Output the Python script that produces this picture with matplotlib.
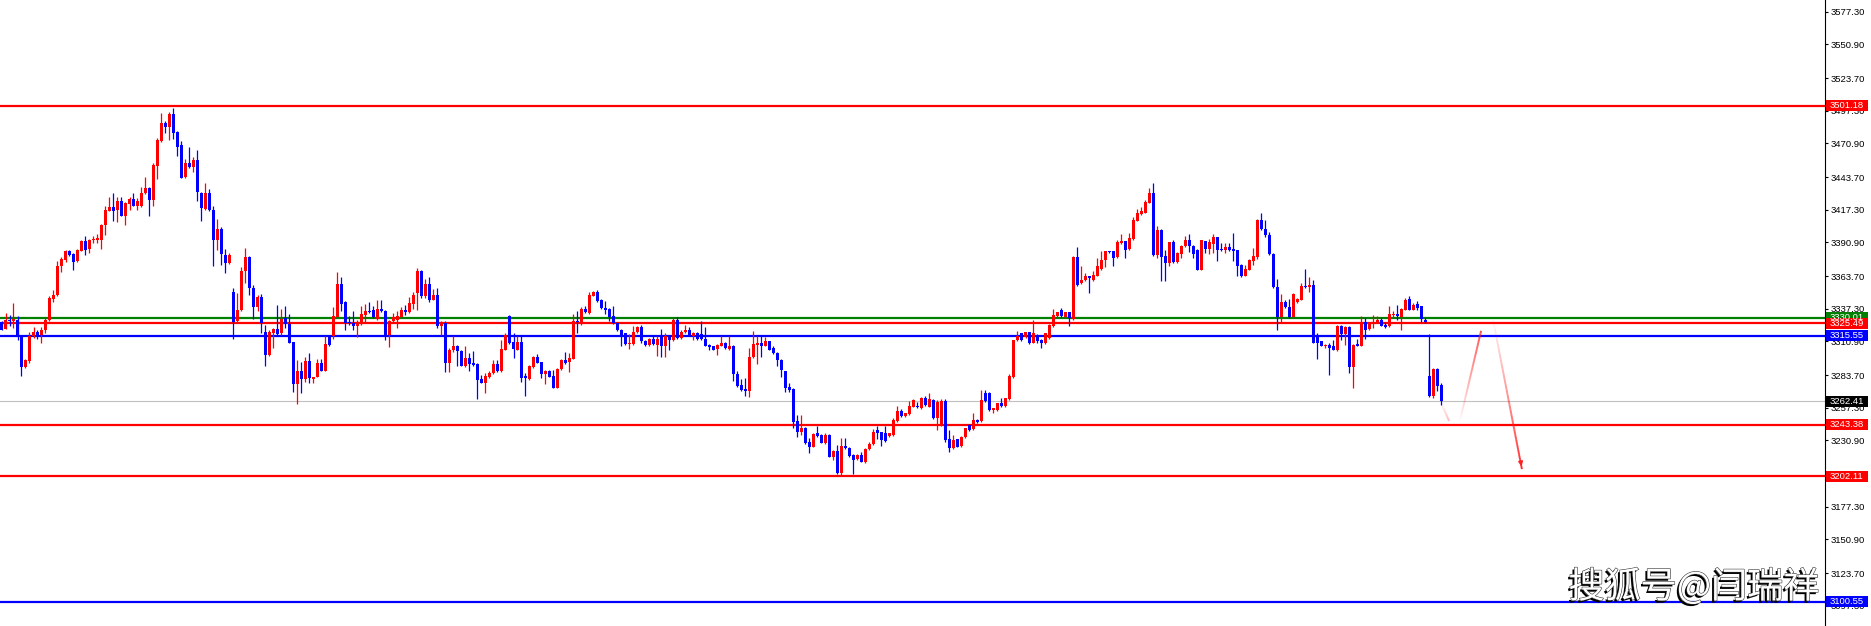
import matplotlib
matplotlib.use('Agg')
import matplotlib.pyplot as plt
import matplotlib.patheffects as pe
import matplotlib.transforms as mtransforms
from matplotlib.patches import Rectangle
from matplotlib.collections import LineCollection
import numpy as np

# K线数据 (开 高 低 收)
opens = [
    3326.2, 3320.8, 3327.9, 3327.3, 3328.4, 3314.9, 3290.1, 3295.2, 3314.9, 3318.7,
    3316.3, 3319.8, 3328.4, 3345.4, 3348.1, 3371.6, 3377.0, 3383.8, 3381.9, 3375.7,
    3384.3, 3392.1, 3385.6, 3392.7, 3393.2, 3393.2, 3404.8, 3416.7, 3419.9, 3417.0,
    3424.0, 3412.6, 3421.6, 3426.4, 3420.7, 3420.2, 3430.5, 3434.5, 3425.1, 3452.6,
    3472.9, 3487.7, 3484.2, 3494.4, 3480.1, 3469.3, 3443.7, 3454.8, 3451.8, 3457.2,
    3431.0, 3418.0, 3430.5, 3417.5, 3392.7, 3401.8, 3381.1, 3374.3, 3350.8, 3327.1,
    3336.0, 3367.6, 3379.2, 3354.3, 3338.4, 3347.0, 3318.4, 3300.0, 3317.6, 3320.8,
    3317.6, 3329.5, 3324.9, 3310.3, 3276.6, 3287.1, 3280.3, 3295.2, 3280.9, 3282.5,
    3293.3, 3287.4, 3315.4, 3314.9, 3330.6, 3357.6, 3342.4, 3326.5, 3325.7, 3323.0,
    3325.2, 3332.4, 3335.7, 3336.0, 3329.0, 3337.0, 3335.7, 3315.7, 3327.1, 3328.4,
    3330.6, 3336.5, 3334.3, 3341.4, 3350.0, 3367.5, 3347.8, 3357.6, 3344.6, 3348.7,
    3323.0, 3325.7, 3293.8, 3303.6, 3307.3, 3303.3, 3291.4, 3297.9, 3293.3, 3292.8,
    3280.6, 3277.6, 3282.5, 3285.2, 3292.8, 3287.4, 3304.1, 3331.1, 3310.6, 3304.1,
    3310.6, 3283.0, 3280.3, 3290.6, 3298.7, 3294.4, 3284.7, 3287.4, 3283.0, 3273.6,
    3288.4, 3296.0, 3294.4, 3297.1, 3327.1, 3325.2, 3337.3, 3333.8, 3347.8, 3350.5,
    3344.6, 3338.1, 3337.0, 3331.1, 3325.7, 3320.3, 3317.6, 3308.7, 3309.0, 3318.4,
    3322.5, 3311.4, 3308.2, 3313.0, 3308.2, 3316.2, 3306.8, 3314.9, 3311.7, 3328.4,
    3313.5, 3318.4, 3320.3, 3315.4, 3318.1, 3316.8, 3313.0, 3308.2, 3306.8, 3304.6,
    3307.3, 3310.0, 3304.9, 3307.6, 3284.7, 3275.8, 3272.5, 3271.2, 3298.2, 3308.2,
    3310.0, 3307.3, 3310.9, 3305.4, 3301.9, 3296.0, 3286.6, 3274.4, 3272.5, 3246.6,
    3237.9, 3241.2, 3229.9, 3225.8, 3236.6, 3235.3, 3229.0, 3235.3, 3217.7, 3222.3,
    3204.2, 3226.6, 3225.0, 3219.1, 3215.8, 3219.1, 3213.7, 3223.9, 3227.7, 3239.3,
    3237.4, 3236.6, 3234.7, 3235.3, 3246.9, 3255.0, 3250.6, 3252.3, 3258.2, 3258.7,
    3256.9, 3265.5, 3258.2, 3263.6, 3248.8, 3243.4, 3263.1, 3231.7, 3224.5, 3231.7,
    3226.3, 3233.4, 3243.4, 3239.8, 3247.4, 3246.9, 3269.5, 3269.5, 3255.5, 3255.5,
    3260.9, 3259.0, 3264.1, 3282.0, 3311.7, 3317.6, 3314.1, 3318.4, 3310.0, 3316.3,
    3312.2, 3309.5, 3313.6, 3323.0, 3331.1, 3336.5, 3330.6, 3334.3, 3328.9, 3379.2,
    3358.1, 3360.3, 3363.5, 3360.8, 3364.0, 3369.4, 3376.5, 3383.8, 3383.8, 3379.2,
    3390.5, 3391.9, 3385.6, 3394.0, 3408.6, 3413.5, 3414.8, 3422.9, 3430.5, 3381.1,
    3401.3, 3379.7, 3374.3, 3391.0, 3374.8, 3381.6, 3387.8, 3392.7, 3388.3, 3385.1,
    3368.9, 3391.9, 3385.9, 3390.0, 3395.1, 3385.9, 3384.6, 3387.0, 3385.6, 3384.6,
    3372.4, 3364.0, 3368.9, 3375.7, 3379.2, 3408.9, 3402.1, 3397.3, 3381.9, 3354.9,
    3330.6, 3343.0, 3338.7, 3330.6, 3342.4, 3344.6, 3355.9, 3354.9, 3356.8, 3316.2,
    3310.9, 3307.6, 3308.4, 3306.8, 3303.6, 3323.5, 3317.1, 3322.5, 3290.6, 3308.7,
    3307.6, 3327.0, 3321.1, 3325.2, 3326.2, 3328.4, 3324.4, 3323.0, 3332.5, 3333.3,
    3330.6, 3336.5, 3345.1, 3336.5, 3341.4, 3339.2, 3328.4, 3283.0, 3266.8, 3288.7,
    3275.7,
]
highs = [
    3327.1, 3333.8, 3332.5, 3341.9, 3331.6, 3315.4, 3296.5, 3318.9, 3322.5, 3319.8,
    3322.2, 3329.5, 3347.3, 3352.7, 3375.6, 3378.9, 3385.1, 3385.1, 3382.4, 3385.6,
    3393.2, 3396.4, 3393.7, 3396.4, 3398.1, 3406.2, 3420.2, 3427.5, 3430.5, 3427.8,
    3427.8, 3423.4, 3427.8, 3430.5, 3426.7, 3435.9, 3444.0, 3435.9, 3455.3, 3475.5,
    3495.3, 3489.0, 3496.3, 3499.9, 3481.0, 3472.9, 3458.5, 3468.3, 3460.2, 3465.3,
    3431.5, 3439.1, 3433.7, 3420.7, 3409.9, 3403.2, 3385.9, 3382.4, 3354.0, 3350.0,
    3370.8, 3386.4, 3380.2, 3356.2, 3348.6, 3349.5, 3324.3, 3320.3, 3321.6, 3340.5,
    3337.0, 3339.2, 3333.0, 3310.8, 3296.0, 3294.4, 3298.4, 3301.4, 3282.5, 3296.5,
    3296.5, 3314.9, 3315.4, 3338.7, 3367.3, 3363.2, 3343.3, 3331.1, 3335.7, 3328.4,
    3339.7, 3341.1, 3342.7, 3339.2, 3344.1, 3344.6, 3336.5, 3328.4, 3333.8, 3335.7,
    3338.7, 3340.5, 3346.8, 3350.5, 3370.2, 3368.9, 3361.3, 3363.0, 3353.2, 3354.0,
    3327.1, 3327.1, 3305.4, 3314.9, 3308.2, 3304.1, 3306.8, 3301.4, 3303.3, 3293.3,
    3283.9, 3285.2, 3287.4, 3296.0, 3296.0, 3312.2, 3318.1, 3331.9, 3317.6, 3314.9,
    3314.9, 3285.0, 3291.9, 3299.2, 3300.6, 3294.6, 3287.9, 3287.9, 3287.9, 3289.5,
    3296.5, 3302.2, 3301.9, 3333.3, 3335.2, 3338.7, 3339.7, 3350.5, 3351.9, 3352.2,
    3345.1, 3343.3, 3337.6, 3339.7, 3326.2, 3320.8, 3318.1, 3316.8, 3323.0, 3323.5,
    3324.4, 3312.2, 3313.5, 3315.4, 3314.9, 3320.8, 3317.6, 3315.4, 3329.8, 3330.3,
    3320.3, 3324.4, 3322.5, 3318.7, 3318.9, 3327.6, 3322.5, 3309.0, 3307.3, 3308.7,
    3314.9, 3310.6, 3314.9, 3308.2, 3287.1, 3280.3, 3281.2, 3305.4, 3319.5, 3314.9,
    3314.9, 3314.4, 3311.4, 3307.3, 3302.5, 3296.5, 3287.1, 3277.1, 3273.0, 3251.4,
    3251.5, 3242.0, 3232.6, 3237.1, 3242.5, 3235.8, 3236.6, 3235.8, 3223.1, 3227.2,
    3232.6, 3232.6, 3225.8, 3219.9, 3219.6, 3221.8, 3224.5, 3229.9, 3239.8, 3242.5,
    3237.9, 3242.5, 3237.1, 3248.8, 3258.7, 3256.3, 3253.3, 3262.8, 3264.1, 3262.3,
    3266.3, 3266.8, 3269.0, 3264.1, 3263.6, 3264.1, 3264.1, 3239.3, 3235.3, 3232.3,
    3234.4, 3241.2, 3244.2, 3252.8, 3247.9, 3271.7, 3271.7, 3270.1, 3257.4, 3261.4,
    3265.0, 3265.5, 3284.4, 3312.2, 3319.0, 3318.1, 3318.9, 3318.9, 3328.4, 3316.8,
    3312.7, 3318.1, 3325.2, 3337.0, 3334.9, 3337.9, 3334.9, 3334.9, 3380.2, 3387.3,
    3372.1, 3366.2, 3364.0, 3368.1, 3378.4, 3383.8, 3384.3, 3384.3, 3384.3, 3392.7,
    3398.1, 3392.4, 3398.6, 3411.3, 3418.0, 3419.7, 3425.1, 3435.1, 3438.6, 3404.5,
    3401.8, 3385.1, 3391.6, 3393.2, 3382.9, 3389.2, 3396.4, 3397.5, 3389.0, 3386.0,
    3393.2, 3392.4, 3393.7, 3398.1, 3395.6, 3390.5, 3390.5, 3390.5, 3398.6, 3385.1,
    3373.8, 3373.0, 3377.5, 3386.5, 3409.9, 3414.8, 3408.9, 3399.4, 3382.4, 3361.3,
    3349.5, 3344.6, 3345.1, 3350.0, 3346.0, 3358.1, 3369.7, 3363.0, 3360.3, 3317.6,
    3311.4, 3309.0, 3309.5, 3312.2, 3324.1, 3324.1, 3323.0, 3323.0, 3308.7, 3312.7,
    3331.6, 3329.8, 3327.0, 3331.9, 3331.1, 3329.8, 3327.0, 3339.2, 3335.2, 3340.6,
    3337.9, 3346.0, 3347.8, 3341.9, 3343.3, 3339.7, 3329.8, 3316.8, 3289.2, 3289.2,
    3277.1,
]
lows = [
    3319.8, 3320.8, 3323.0, 3321.6, 3312.2, 3283.3, 3289.2, 3293.8, 3313.5, 3313.0,
    3310.0, 3317.6, 3327.1, 3342.4, 3347.3, 3366.7, 3374.8, 3380.2, 3368.9, 3374.8,
    3383.8, 3381.1, 3382.4, 3390.5, 3390.5, 3385.9, 3397.2, 3416.2, 3408.6, 3407.2,
    3412.1, 3405.3, 3417.0, 3420.2, 3417.5, 3419.7, 3429.7, 3412.1, 3420.7, 3441.8,
    3472.0, 3479.1, 3473.4, 3474.2, 3460.7, 3442.6, 3443.1, 3451.0, 3447.7, 3424.0,
    3408.0, 3417.5, 3416.2, 3371.6, 3385.1, 3372.7, 3366.2, 3373.8, 3312.7, 3325.7,
    3335.2, 3358.1, 3348.1, 3328.9, 3335.1, 3317.6, 3291.4, 3299.2, 3305.4, 3316.2,
    3316.2, 3321.6, 3309.5, 3270.3, 3260.4, 3269.0, 3278.4, 3277.1, 3277.1, 3282.0,
    3286.6, 3286.6, 3306.8, 3312.7, 3329.7, 3335.1, 3319.8, 3324.4, 3319.8, 3314.4,
    3324.4, 3326.5, 3333.8, 3329.7, 3328.4, 3334.3, 3311.7, 3306.0, 3326.2, 3321.6,
    3329.8, 3332.4, 3333.8, 3337.0, 3336.5, 3345.9, 3345.9, 3342.4, 3344.1, 3321.6,
    3316.2, 3286.5, 3286.5, 3302.7, 3291.4, 3291.1, 3290.6, 3287.4, 3291.1, 3264.4,
    3277.1, 3269.5, 3281.1, 3284.6, 3286.5, 3286.5, 3303.6, 3308.7, 3297.9, 3303.6,
    3278.4, 3266.8, 3279.8, 3289.3, 3293.3, 3281.1, 3276.6, 3282.0, 3273.0, 3273.0,
    3287.9, 3292.8, 3286.5, 3296.5, 3318.1, 3324.4, 3333.8, 3333.0, 3347.3, 3342.7,
    3337.0, 3333.0, 3327.1, 3325.2, 3319.0, 3307.6, 3308.2, 3304.6, 3308.2, 3317.6,
    3310.0, 3307.3, 3307.3, 3308.2, 3299.2, 3298.7, 3298.7, 3304.1, 3310.9, 3312.7,
    3312.7, 3317.6, 3314.9, 3311.7, 3312.2, 3312.2, 3306.8, 3303.6, 3303.6, 3300.1,
    3306.8, 3304.6, 3304.1, 3279.3, 3274.4, 3271.2, 3267.1, 3266.3, 3297.4, 3292.5,
    3298.7, 3306.8, 3303.6, 3300.9, 3291.4, 3282.5, 3270.4, 3270.4, 3240.7, 3233.9,
    3235.3, 3227.9, 3220.4, 3225.3, 3233.9, 3228.5, 3227.9, 3217.2, 3215.0, 3203.7,
    3202.9, 3223.6, 3217.7, 3203.7, 3215.0, 3213.1, 3212.8, 3223.1, 3227.2, 3231.7,
    3226.3, 3229.9, 3233.9, 3234.4, 3246.1, 3250.1, 3250.1, 3251.5, 3257.7, 3256.9,
    3256.3, 3258.7, 3257.7, 3247.9, 3239.3, 3242.5, 3229.8, 3221.8, 3223.6, 3225.3,
    3225.8, 3232.6, 3238.8, 3239.3, 3245.2, 3246.1, 3262.3, 3255.0, 3252.8, 3255.0,
    3258.2, 3258.2, 3263.6, 3281.2, 3310.9, 3310.9, 3313.6, 3309.0, 3309.5, 3310.0,
    3305.5, 3309.0, 3312.7, 3322.5, 3330.6, 3330.6, 3329.8, 3323.0, 3328.4, 3355.9,
    3357.6, 3359.5, 3350.0, 3360.0, 3363.5, 3368.9, 3371.1, 3382.4, 3372.1, 3378.4,
    3390.0, 3378.4, 3385.1, 3393.2, 3408.1, 3412.9, 3414.3, 3422.4, 3380.2, 3378.4,
    3360.0, 3359.5, 3371.6, 3374.3, 3374.3, 3378.4, 3387.3, 3382.9, 3378.4, 3368.4,
    3368.4, 3382.4, 3381.9, 3382.4, 3375.6, 3384.1, 3382.4, 3384.1, 3375.6, 3364.0,
    3363.0, 3363.5, 3368.4, 3373.0, 3377.5, 3401.3, 3395.4, 3381.1, 3354.0, 3319.8,
    3325.7, 3337.9, 3329.8, 3329.8, 3341.9, 3344.1, 3354.0, 3350.5, 3309.5, 3296.5,
    3306.8, 3305.5, 3283.9, 3303.6, 3302.8, 3311.7, 3308.2, 3285.7, 3273.6, 3306.8,
    3306.8, 3312.7, 3320.3, 3321.6, 3325.7, 3323.0, 3321.6, 3322.5, 3329.8, 3328.4,
    3319.8, 3336.0, 3336.0, 3336.0, 3336.5, 3326.2, 3325.7, 3266.3, 3265.5, 3271.2,
    3259.5,
]
closes = [
    3320.3, 3327.9, 3327.6, 3328.9, 3314.1, 3290.6, 3296.0, 3315.4, 3318.7, 3316.0,
    3320.3, 3327.9, 3345.9, 3348.6, 3372.1, 3377.5, 3384.3, 3381.1, 3375.4, 3385.1,
    3392.1, 3385.1, 3393.2, 3393.7, 3394.6, 3405.3, 3417.5, 3419.9, 3416.7, 3424.0,
    3412.6, 3422.4, 3426.4, 3420.7, 3424.8, 3431.0, 3434.5, 3425.1, 3453.1, 3473.7,
    3487.7, 3484.2, 3494.4, 3479.6, 3468.0, 3443.1, 3454.8, 3451.5, 3457.2, 3431.5,
    3418.9, 3430.5, 3417.0, 3392.7, 3401.8, 3381.6, 3374.3, 3381.1, 3327.0, 3336.5,
    3368.1, 3379.2, 3353.8, 3338.4, 3347.0, 3325.7, 3300.0, 3318.4, 3320.8, 3317.1,
    3328.9, 3324.9, 3310.0, 3276.6, 3287.1, 3280.3, 3295.2, 3281.1, 3282.0, 3293.3,
    3287.4, 3308.7, 3308.1, 3331.1, 3357.6, 3341.4, 3325.7, 3325.7, 3323.0, 3325.7,
    3333.3, 3335.7, 3334.6, 3330.6, 3337.0, 3335.2, 3315.7, 3327.6, 3330.6, 3331.6,
    3336.5, 3334.3, 3341.9, 3348.7, 3367.5, 3347.3, 3357.6, 3344.6, 3348.7, 3323.0,
    3325.7, 3293.8, 3304.1, 3307.3, 3303.3, 3291.4, 3297.9, 3292.8, 3291.7, 3279.8,
    3277.6, 3283.0, 3285.7, 3292.8, 3287.4, 3304.9, 3316.2, 3310.0, 3304.4, 3310.6,
    3281.7, 3281.2, 3291.1, 3298.7, 3293.8, 3284.7, 3287.4, 3282.5, 3273.6, 3289.0,
    3296.0, 3293.3, 3297.9, 3327.1, 3326.2, 3337.3, 3334.3, 3348.7, 3350.5, 3343.3,
    3337.9, 3336.0, 3330.6, 3325.7, 3319.8, 3314.9, 3308.7, 3310.0, 3318.4, 3322.5,
    3310.9, 3308.2, 3313.0, 3309.0, 3313.0, 3306.8, 3314.9, 3311.7, 3328.4, 3313.5,
    3318.9, 3320.3, 3315.4, 3318.1, 3313.0, 3312.7, 3307.3, 3306.0, 3304.1, 3308.2,
    3309.5, 3305.4, 3307.6, 3284.4, 3275.2, 3271.7, 3271.2, 3298.7, 3309.0, 3310.0,
    3307.3, 3310.9, 3304.1, 3301.4, 3295.5, 3287.9, 3273.6, 3271.7, 3246.1, 3237.4,
    3241.2, 3229.0, 3225.8, 3235.8, 3234.7, 3229.0, 3235.3, 3217.7, 3222.3, 3204.2,
    3226.6, 3224.5, 3218.2, 3215.0, 3219.1, 3213.7, 3223.9, 3227.9, 3237.9, 3236.6,
    3231.2, 3230.7, 3236.6, 3247.4, 3255.0, 3250.6, 3252.8, 3258.7, 3263.6, 3257.7,
    3265.5, 3259.6, 3264.1, 3248.8, 3262.2, 3263.1, 3231.2, 3224.5, 3231.2, 3225.8,
    3233.9, 3240.7, 3239.3, 3247.4, 3246.1, 3263.6, 3263.1, 3255.5, 3256.9, 3260.9,
    3259.0, 3265.0, 3283.0, 3311.7, 3314.9, 3311.7, 3318.4, 3309.5, 3317.6, 3310.9,
    3309.5, 3317.6, 3324.4, 3331.9, 3334.3, 3331.1, 3334.3, 3329.8, 3379.2, 3356.8,
    3360.8, 3363.5, 3361.9, 3364.9, 3371.6, 3377.0, 3383.8, 3383.2, 3378.4, 3391.0,
    3391.9, 3385.1, 3394.6, 3409.4, 3414.8, 3416.2, 3423.4, 3431.0, 3381.1, 3400.8,
    3379.2, 3374.3, 3391.0, 3374.8, 3382.4, 3388.3, 3392.7, 3387.8, 3381.9, 3368.9,
    3392.7, 3385.9, 3391.0, 3395.1, 3385.1, 3384.6, 3387.0, 3384.6, 3383.8, 3371.6,
    3364.0, 3369.7, 3376.5, 3380.2, 3408.9, 3401.8, 3397.3, 3381.9, 3354.9, 3330.6,
    3343.0, 3338.7, 3330.6, 3349.2, 3345.1, 3355.9, 3354.9, 3356.8, 3310.0, 3310.0,
    3307.6, 3308.4, 3305.5, 3304.1, 3323.5, 3317.1, 3322.5, 3290.6, 3308.2, 3307.3,
    3327.0, 3320.3, 3325.2, 3326.2, 3328.4, 3323.5, 3322.5, 3333.3, 3333.3, 3331.1,
    3337.3, 3344.6, 3336.5, 3340.6, 3337.9, 3328.9, 3326.2, 3266.8, 3288.7, 3274.9,
    3262.41,
]

# 水平线 (价格, 颜色)
level_prices = [3501.18, 3330.01, 3325.49, 3315.55, 3262.41, 3243.38, 3202.11, 3100.55]
level_colors = ['#ff0000', '#008000', '#ff0000', '#0000ff', '#c0c0c0', '#ff0000', '#ff0000', '#0000ff']
level_boxes = ['#ff0000', '#008000', '#ff0000', '#0000ff', '#000000', '#ff0000', '#ff0000', '#0000ff']

# 右侧价格刻度
tick_prices = [3577.30, 3550.90, 3523.70, 3497.30, 3470.90, 3443.70, 3417.30, 3390.90,
               3363.70, 3337.30, 3310.90, 3283.70, 3257.30, 3230.90, 3203.70, 3177.30,
               3150.90, 3123.70, 3097.30]

# 预测路径 (K线序号, 价格)
path_idx = [359.9, 361.9, 364.6, 369.9, 372.9, 380.1]
path_price = [3261.2, 3246.6, 3246.6, 3319.5, 3328.4, 3207.7]
path_alpha = [0.3, 0.75, 0.9]

watermark = '搜狐号@闫瑞祥'

W, H = 1871, 626
PLOT_W = 1825
fig = plt.figure(figsize=(W / 100, H / 100), dpi=100)
ax = fig.add_axes([0, 0, PLOT_W / W, 1])

x = np.arange(len(closes))
o = np.array(opens)
c = np.array(closes)
hi = np.array(highs)
lo = np.array(lows)
up = c >= o
cols = np.where(up, '#ff0000', '#0000ff')

# 水平线
for p, col in zip(level_prices, level_colors):
    lw = 0.8 if col == '#c0c0c0' else 1.6
    ax.axhline(p, color=col, lw=lw, zorder=1)

# 影线 + 实体
ax.vlines(x, lo, hi, colors=cols, lw=0.9, zorder=3)
body_bot = np.minimum(o, c)
body_h = np.maximum(np.abs(c - o), 0.6)
ax.bar(x, body_h, width=0.75, bottom=body_bot, color=cols, linewidth=0, zorder=4)

# 预测路径 (渐变透明)
for k in range(3):
    x0, x1 = path_idx[2 * k], path_idx[2 * k + 1]
    y0, y1 = path_price[2 * k], path_price[2 * k + 1]
    n = 30
    xs = np.linspace(x0, x1, n + 1)
    ys = np.linspace(y0, y1, n + 1)
    segs = [[(xs[j], ys[j]), (xs[j + 1], ys[j + 1])] for j in range(n)]
    rgba = [(1, 0.1, 0.1, path_alpha[k] * (j + 1) / n) for j in range(n)]
    ax.add_collection(LineCollection(segs, colors=rgba, lw=1.4, zorder=5))
ax.annotate('', xy=(path_idx[-1], path_price[-1]),
            xytext=(path_idx[-1] - 0.35, path_price[-1] + 7),
            arrowprops=dict(arrowstyle='-|>', color='#ff2020', lw=1.2, mutation_scale=6),
            zorder=6)

ax.set_xlim(-0.375, (PLOT_W - 1.5) / 4)
ax.set_ylim(3080.9, 3586.85)

for s in ['top', 'left', 'bottom']:
    ax.spines[s].set_visible(False)
ax.spines['right'].set_linewidth(0.8)
ax.set_xticks([])
ax.yaxis.tick_right()
ax.set_yticks(tick_prices)
ax.set_yticklabels(['%.2f' % t for t in tick_prices], fontsize=6.8, family='Liberation Sans')
ax.tick_params(axis='y', length=2.2, width=0.8, pad=2)

# 价格标签框
trans = mtransforms.blended_transform_factory(ax.transAxes, ax.transData)
box_w = 42.5 / PLOT_W
box_h = 11 * (3586.85 - 3080.9) / H
for p, bc in zip(level_prices, level_boxes):
    ax.add_patch(Rectangle((1.0003, p - box_h / 2), box_w, box_h, transform=trans,
                           facecolor=bc, edgecolor='none', clip_on=False, zorder=10))
    ax.text(1.0003 + box_w / 2, p, '%.2f' % p, transform=trans, color='white',
            fontsize=6.8, family='Liberation Sans', ha='center', va='center',
            clip_on=False, zorder=11)

# 水印
ax.text(1694 / PLOT_W, 1 - 587 / H, watermark, transform=ax.transAxes,
        fontsize=26, family=['Noto Sans CJK SC', 'DejaVu Sans'], color='white',
        ha='center', va='center', zorder=12,
        path_effects=[pe.withSimplePatchShadow(offset=(-1.5, -1.5), shadow_rgbFace='black', alpha=1.0),
                      pe.Stroke(linewidth=0.8, foreground='#333333'), pe.Normal()])

fig.savefig('out.png', dpi=100, facecolor='white')
